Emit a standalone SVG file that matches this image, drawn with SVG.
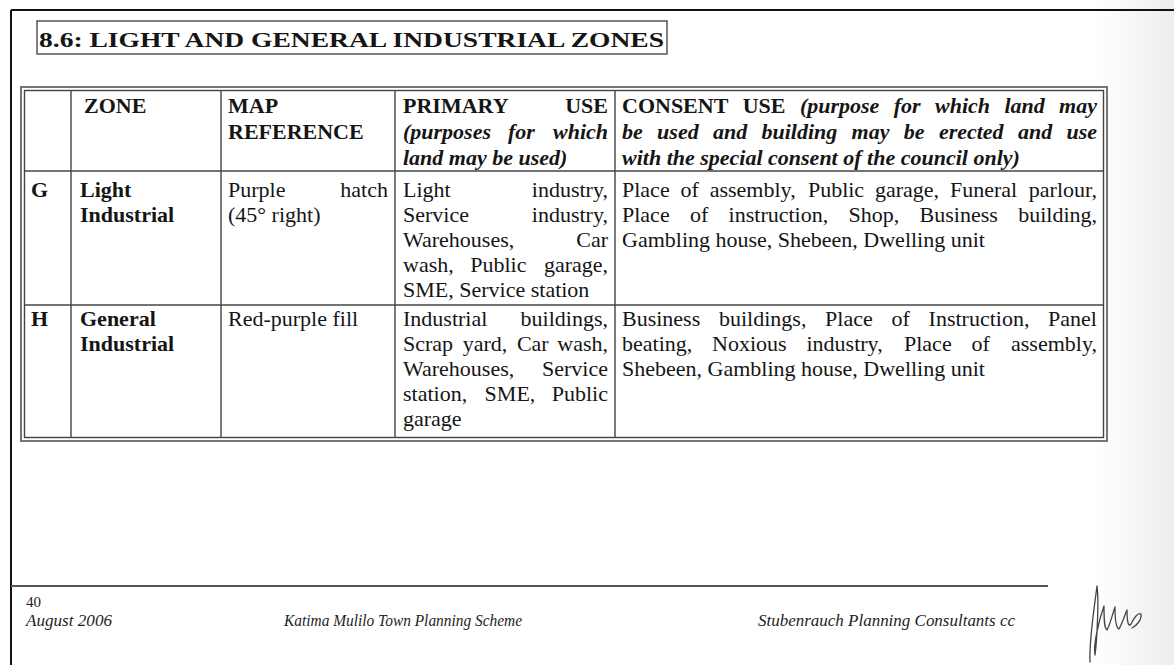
<svg xmlns="http://www.w3.org/2000/svg" width="1174" height="665" viewBox="0 0 1174 665">
<style>
  .t { font-family: "Liberation Serif", "Times New Roman", serif; font-size: 22px; fill: #151515; }
  .b { font-weight: bold; }
  .bi { font-weight: bold; font-style: italic; }
  .e { text-anchor: end; }
  .grid { stroke: #444; stroke-width: 1.4; fill: none; }
  .foot { font-family: "Liberation Serif", "Times New Roman", serif; font-size: 16px; font-style: italic; fill: #1e1e1e; }
</style>
<defs>
  <linearGradient id="shade" x1="0" y1="0" x2="1" y2="0">
    <stop offset="0" stop-color="#000" stop-opacity="0"/>
    <stop offset="1" stop-color="#000" stop-opacity="0.07"/>
  </linearGradient>
</defs>
<rect x="0" y="0" width="1174" height="665" fill="#ffffff"/>
<rect x="1095" y="0" width="79" height="665" fill="url(#shade)"/>

<g id="page-frame">
  <line x1="11" y1="10" x2="1174" y2="10" stroke="#111" stroke-width="2"/>
  <line x1="11" y1="10" x2="11" y2="665" stroke="#111" stroke-width="2"/>
</g>

<g id="title">
  <rect x="37" y="21" width="630" height="33" fill="none" stroke="#555" stroke-width="1.5"/>
  <text class="t b" x="39" y="47" font-size="27.5" textLength="625" lengthAdjust="spacingAndGlyphs">8.6: LIGHT AND GENERAL INDUSTRIAL ZONES</text>
</g>

<g id="connectors">
  <g id="table-grid" class="grid">
    <rect x="21" y="87" width="1086" height="354" stroke="#666" stroke-width="1.8"/>
    <rect x="24.5" y="90.5" width="1079" height="347"/>
    <line x1="71" y1="90.5" x2="71" y2="437.5"/>
    <line x1="221" y1="90.5" x2="221" y2="437.5"/>
    <line x1="395" y1="90.5" x2="395" y2="437.5"/>
    <line x1="615" y1="90.5" x2="615" y2="437.5"/>
    <line x1="24.5" y1="171" x2="1103.5" y2="171" stroke-width="1.6"/>
    <line x1="24.5" y1="305" x2="1103.5" y2="305" stroke-width="1.6"/>
  </g>
</g>

<g id="header-row">
  <text class="t b" x="84" y="113">ZONE</text>
  <text class="t b" x="228" y="113">MAP</text>
  <text class="t b" x="228" y="139">REFERENCE</text>
  <text class="t b" x="403" y="113">PRIMARY</text>
  <text class="t b e" x="608" y="113">USE</text>
  <text class="t bi" y="139"><tspan x="403">(purposes</tspan><tspan x="508">for</tspan><tspan x="608" text-anchor="end">which</tspan></text>
  <text class="t bi" x="403" y="164.5">land may be used)</text>
  <text class="t" y="113"><tspan class="b" x="622">CONSENT</tspan><tspan class="b" x="742.7">USE</tspan><tspan class="bi" x="799.9">(purpose</tspan><tspan class="bi" x="893.7">for</tspan><tspan class="bi" x="935">which</tspan><tspan class="bi" x="1004.4">land</tspan><tspan class="bi" x="1097" text-anchor="end">may</tspan></text>
  <text class="t bi" y="139"><tspan x="622">be</tspan><tspan x="657.1">used</tspan><tspan x="713">and</tspan><tspan x="761.5">building</tspan><tspan x="851.6">may</tspan><tspan x="903.8">be</tspan><tspan x="938.9">erected</tspan><tspan x="1017.9">and</tspan><tspan x="1097" text-anchor="end">use</tspan></text>
  <text class="t bi" x="622" y="164.5">with the special consent of the council only)</text>
</g>

<g id="row-G">
  <text class="t b" x="31" y="197">G</text>
  <text class="t b" x="80" y="197">Light</text>
  <text class="t b" x="80" y="222">Industrial</text>
  <text class="t" x="228" y="197">Purple</text>
  <text class="t e" x="388" y="197">hatch</text>
  <text class="t" x="228" y="222">(45° right)</text>
  <text class="t" x="403" y="197">Light</text>
  <text class="t e" x="608" y="197">industry,</text>
  <text class="t" x="403" y="222">Service</text>
  <text class="t e" x="608" y="222">industry,</text>
  <text class="t" x="403" y="247">Warehouses,</text>
  <text class="t e" x="608" y="247">Car</text>
  <text class="t" y="272"><tspan x="403">wash,</tspan><tspan x="470.2">Public</tspan><tspan x="608" text-anchor="end">garage,</tspan></text>
  <text class="t" x="403" y="297">SME, Service station</text>
  <text class="t" y="197"><tspan x="622">Place</tspan><tspan x="680.5">of</tspan><tspan x="709.7">assembly,</tspan><tspan x="807.9">Public</tspan><tspan x="875">garage,</tspan><tspan x="950">Funeral</tspan><tspan x="1097" text-anchor="end">parlour,</tspan></text>
  <text class="t" y="222"><tspan x="622">Place</tspan><tspan x="690">of</tspan><tspan x="728.6">instruction,</tspan><tspan x="848.6">Shop,</tspan><tspan x="919.6">Business</tspan><tspan x="1097" text-anchor="end">building,</tspan></text>
  <text class="t" x="622" y="247">Gambling house, Shebeen, Dwelling unit</text>
</g>

<g id="row-H">
  <text class="t b" x="31" y="326">H</text>
  <text class="t b" x="80" y="326">General</text>
  <text class="t b" x="80" y="351">Industrial</text>
  <text class="t" x="228" y="326">Red-purple fill</text>
  <text class="t" x="403" y="326">Industrial</text>
  <text class="t e" x="608" y="326">buildings,</text>
  <text class="t" y="351"><tspan x="403">Scrap</tspan><tspan x="462.7">yard,</tspan><tspan x="516.9">Car</tspan><tspan x="608" text-anchor="end">wash,</tspan></text>
  <text class="t" x="403" y="376">Warehouses,</text>
  <text class="t e" x="608" y="376">Service</text>
  <text class="t" y="401"><tspan x="403">station,</tspan><tspan x="484.6">SME,</tspan><tspan x="608" text-anchor="end">Public</tspan></text>
  <text class="t" x="403" y="426">garage</text>
  <text class="t" y="326"><tspan x="622">Business</tspan><tspan x="719">buildings,</tspan><tspan x="825.1">Place</tspan><tspan x="891.5">of</tspan><tspan x="928.6">Instruction,</tspan><tspan x="1097" text-anchor="end">Panel</tspan></text>
  <text class="t" y="351"><tspan x="622">beating,</tspan><tspan x="712.1">Noxious</tspan><tspan x="806.5">industry,</tspan><tspan x="904">Place</tspan><tspan x="971.5">of</tspan><tspan x="1097" text-anchor="end">assembly,</tspan></text>
  <text class="t" x="622" y="376">Shebeen, Gambling house, Dwelling unit</text>
</g>

<g id="footer">
  <line x1="11" y1="586" x2="1048" y2="586" stroke="#555" stroke-width="1.8"/>
  <text x="26" y="607" font-family="Liberation Serif, serif" font-size="15" fill="#1e1e1e">40</text>
  <text class="foot" x="26" y="626" textLength="86" lengthAdjust="spacingAndGlyphs">August 2006</text>
  <text class="foot" x="284" y="626" textLength="238" lengthAdjust="spacingAndGlyphs">Katima Mulilo Town Planning Scheme</text>
  <text class="foot" x="758" y="626" textLength="257" lengthAdjust="spacingAndGlyphs">Stubenrauch Planning Consultants cc</text>
</g>

<g id="signature">
  <path d="M1090,662 C1089,640 1094,610 1097,586 C1099,600 1097,640 1095,655 C1093,645 1099,620 1104,606 C1104,618 1104,628 1107,630 C1111,622 1113,612 1115,607 C1115,620 1116,628 1119,629 C1123,622 1125,614 1127,610 C1127,620 1128,628 1131,624 C1134,618 1138,612 1141,614 C1142,620 1136,626 1132,628" fill="none" stroke="#444" stroke-width="1.3" stroke-linecap="round" stroke-linejoin="round"/>
</g>
</svg>
